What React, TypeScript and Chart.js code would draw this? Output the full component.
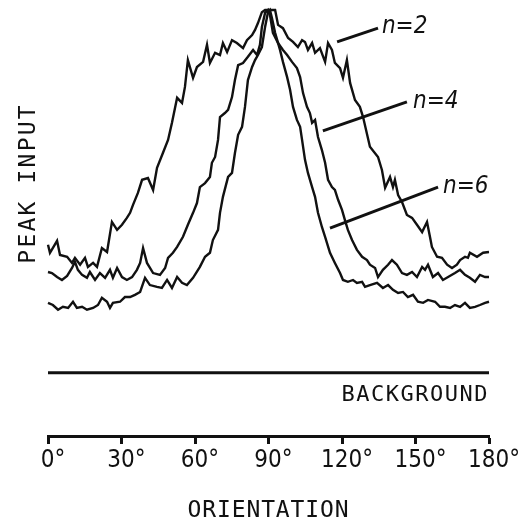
import React, { useEffect, useRef } from "react";
import { Chart, registerables } from "chart.js";

Chart.register(...registerables);

// X axis: orientation in degrees
const xTickValues = [0, 30, 60, 90, 120, 150, 180];

// n = 2 curve (orientation in degrees, peak input in % of maximum above background)
const n2Deg = [0, 0.8, 3.7, 4.9, 7.8, 9.8, 11.0, 13.1, 15.1, 16.3, 18.4, 20.0, 22.0, 24.1, 26.1, 28.2, 30.2, 32.2, 33.5, 34.7, 36.7, 38.4, 40.8, 42.9, 44.5, 46.9, 49.0, 50.6, 52.7, 54.7, 55.9, 57.1, 59.2, 60.8, 63.3, 64.9, 66.1, 68.2, 70.2, 71.4, 73.1, 75.1, 77.1, 79.6, 81.2, 83.3, 84.5, 85.7, 87.3, 88.6, 91.4, 92.7, 93.9, 95.9, 98.0, 100, 102.0, 103.7, 104.9, 106.1, 107.8, 109.0, 111.0, 113.1, 114.3, 115.9, 117.1, 119.2, 120.4, 122.0, 123.3, 125.3, 127.3, 128.6, 131.4, 134.7, 136.3, 137.6, 139.6, 140.8, 141.6, 142.9, 144.5, 146.5, 148.6, 150.6, 152.7, 154.7, 155.9, 156.7, 158.8, 160.8, 162.9, 164.9, 166.9, 168.2, 170.2, 171.4, 172.2, 175.1, 177.6, 180];
const n2Val = [35.3, 33.1, 36.4, 32.5, 32.0, 30.3, 31.7, 29.8, 31.7, 29.2, 30.3, 29.2, 34.4, 33.3, 41.6, 39.4, 40.8, 42.7, 44.1, 46.3, 49.6, 53.2, 53.7, 50.4, 56.5, 60.6, 64.2, 68.9, 75.8, 74.4, 78.8, 86.2, 81.3, 84.3, 85.7, 90.4, 85.4, 88.2, 87.6, 90.9, 88.4, 91.7, 90.9, 89.5, 91.7, 93.1, 94.5, 96.4, 99.4, 100, 100, 100, 95.9, 95.0, 92.3, 91.2, 89.8, 91.7, 91.2, 89.0, 90.9, 88.2, 89.5, 85.7, 90.9, 89.0, 85.4, 84.0, 81.3, 86.2, 79.9, 75.2, 73.3, 70.5, 62.3, 59.5, 55.9, 51.0, 54.0, 51.2, 53.2, 49.0, 47.1, 43.5, 42.7, 40.8, 38.8, 41.6, 37.5, 34.7, 32.0, 31.7, 29.8, 28.9, 29.8, 31.1, 32.0, 31.7, 33.1, 32.0, 33.1, 33.3];

// n = 4 curve
const n4Deg = [0, 1.6, 3.7, 5.7, 7.8, 9.8, 11.0, 12.2, 13.9, 15.9, 17.1, 19.2, 21.2, 23.3, 25.3, 26.5, 28.2, 30.2, 32.2, 34.3, 36.3, 37.6, 38.8, 40.4, 42.9, 45.7, 47.8, 49.0, 51.0, 52.7, 55.1, 57.1, 59.2, 60.8, 62.0, 64.1, 66.1, 66.9, 68.2, 69.4, 70.2, 72.2, 73.5, 75.1, 76.3, 77.6, 79.6, 81.6, 83.7, 85.3, 86.5, 87.3, 88.6, 89.8, 90.6, 91.8, 93.9, 95.9, 97.6, 99.6, 101.6, 102.9, 104.1, 105.7, 106.9, 107.8, 109.0, 110.2, 111.8, 113.1, 114.3, 115.9, 117.1, 118.4, 120.0, 121.2, 122.4, 124.1, 126.1, 128.2, 130.2, 131.4, 133.5, 134.7, 136.7, 138.8, 140.4, 142.4, 144.5, 146.5, 148.6, 150.6, 152.7, 153.9, 155.1, 157.1, 159.2, 161.2, 163.3, 166.1, 168.2, 170.2, 172.2, 174.3, 176.3, 178.4, 180];
const n4Val = [27.8, 27.5, 26.4, 25.6, 26.7, 28.9, 30.6, 28.4, 27.0, 26.2, 27.8, 25.6, 27.5, 26.2, 28.4, 26.2, 28.9, 26.4, 25.6, 26.4, 28.4, 30.3, 34.4, 30.3, 27.5, 27.0, 28.9, 31.7, 33.1, 34.7, 37.5, 40.8, 44.1, 46.8, 51.2, 52.3, 54.0, 57.9, 59.5, 64.2, 70.5, 71.6, 72.5, 76.0, 80.7, 84.8, 85.4, 87.1, 89.0, 87.6, 90.4, 95.3, 99.2, 100, 98.6, 93.7, 90.9, 89.0, 87.6, 85.7, 84.0, 81.5, 77.1, 73.3, 71.6, 68.9, 69.7, 65.0, 61.4, 57.9, 53.2, 51.2, 50.4, 47.7, 44.9, 42.1, 39.4, 36.6, 33.9, 32.0, 31.1, 29.8, 28.9, 26.4, 28.4, 29.8, 31.1, 29.8, 27.5, 27.0, 27.8, 26.4, 29.2, 28.4, 29.8, 26.4, 27.5, 25.6, 26.4, 27.5, 28.4, 27.0, 26.2, 25.1, 27.0, 26.4, 26.4];

// n = 6 curve
const n6Deg = [0, 2.0, 4.1, 6.1, 8.2, 10.2, 11.8, 13.9, 15.9, 18.4, 20.4, 22.0, 24.1, 25.3, 26.5, 29.4, 31.4, 33.5, 35.5, 37.6, 39.6, 41.6, 44.5, 46.5, 48.6, 50.6, 52.7, 54.7, 56.7, 59.2, 62.0, 64.1, 66.1, 67.3, 69.4, 70.2, 71.4, 73.5, 75.1, 76.3, 77.6, 79.2, 80.4, 81.6, 83.3, 84.5, 85.7, 87.3, 88.6, 89.8, 90.6, 91.4, 92.7, 94.7, 95.9, 97.6, 98.8, 100, 101.6, 102.9, 103.7, 104.9, 106.1, 107.8, 109.0, 110.2, 111.8, 113.1, 115.1, 117.1, 119.2, 120.4, 122.4, 124.5, 126.1, 128.2, 129.4, 131.4, 134.3, 136.7, 138.8, 140.8, 142.9, 144.9, 146.9, 149.0, 151.0, 153.1, 155.1, 158.0, 160.0, 162.0, 164.1, 166.1, 168.2, 170.2, 172.2, 174.3, 176.3, 178.4, 180];
const n6Val = [19.3, 18.7, 17.4, 18.2, 17.9, 19.6, 17.9, 18.2, 17.4, 17.9, 18.7, 20.7, 19.6, 17.9, 19.3, 19.6, 20.9, 20.9, 21.5, 22.3, 26.2, 24.2, 23.7, 23.4, 25.6, 23.4, 26.4, 24.8, 24.2, 26.2, 29.2, 32.0, 33.1, 36.6, 39.4, 44.1, 48.5, 54.0, 55.1, 60.6, 65.6, 67.8, 73.3, 80.7, 84.3, 86.2, 87.6, 89.8, 95.3, 99.4, 100, 97.8, 93.7, 89.0, 85.7, 81.5, 78.0, 73.3, 69.7, 67.8, 64.2, 58.7, 55.1, 51.2, 48.5, 44.1, 40.2, 37.5, 33.1, 30.3, 27.5, 25.6, 25.1, 25.6, 24.8, 25.1, 23.7, 24.2, 24.8, 23.4, 24.2, 22.9, 22.0, 22.3, 20.9, 21.5, 19.6, 19.3, 20.1, 19.6, 18.2, 18.2, 17.9, 18.7, 18.2, 19.3, 17.9, 18.2, 18.7, 19.3, 19.6];

// Background level
const backgroundDeg = [0, 180];
const backgroundVal = [0, 0];

// Series labels and their leader lines (in data coordinates)
const seriesLabels = ["n=2", "n=4", "n=6"];
const labelDeg = [136.3, 149.0, 161.2];
const labelVal = [95.3, 74.7, 51.2];
const leaderFromDeg = [118.0, 112.2, 115.1];
const leaderFromVal = [91.2, 66.7, 39.9];
const leaderToDeg = [134.7, 146.5, 159.2];
const leaderToVal = [95.0, 74.7, 51.2];

const xTitle = "ORIENTATION";
const yTitle = "PEAK INPUT";
const backgroundLabel = "BACKGROUND";

const INK = "#111";

const toPoints = (xs: number[], ys: number[]) => xs.map((x, i) => ({ x, y: ys[i] }));

const textPlugin = {
  id: "figureText",
  afterDraw(chart: any) {
    const { ctx, chartArea, scales } = chart;
    const xs = scales.x;
    const ys = scales.y;
    ctx.save();
    ctx.fillStyle = INK;
    ctx.strokeStyle = INK;
    ctx.lineWidth = 3;
    ctx.lineCap = "butt";
    // leader lines + series labels
    ctx.font = "italic 24px 'DejaVu Sans Condensed', 'DejaVu Sans', sans-serif";
    ctx.textAlign = "left";
    ctx.textBaseline = "middle";
    for (let i = 0; i < seriesLabels.length; i++) {
      ctx.beginPath();
      ctx.moveTo(xs.getPixelForValue(leaderFromDeg[i]), ys.getPixelForValue(leaderFromVal[i]));
      ctx.lineTo(xs.getPixelForValue(leaderToDeg[i]), ys.getPixelForValue(leaderToVal[i]));
      ctx.stroke();
      ctx.fillText(seriesLabels[i], xs.getPixelForValue(labelDeg[i]), ys.getPixelForValue(labelVal[i]));
    }
    // BACKGROUND label
    ctx.font = "22px 'DejaVu Sans Mono', monospace";
    (ctx as any).letterSpacing = "1.5px";
    ctx.textAlign = "right";
    ctx.textBaseline = "alphabetic";
    ctx.fillText(backgroundLabel, chartArea.right, ys.getPixelForValue(0) + 28);
    // x title
    ctx.font = "23px 'DejaVu Sans Mono', monospace";
    (ctx as any).letterSpacing = "0.9px";
    ctx.textAlign = "center";
    ctx.fillText(xTitle, (chartArea.left + chartArea.right) / 2, chart.height - 4);
    // y title
    (ctx as any).letterSpacing = "2.2px";
    ctx.translate(35, (chartArea.top + ys.getPixelForValue(0)) / 2 - 8);
    ctx.rotate(-Math.PI / 2);
    ctx.fillText(yTitle, 0, 0);
    ctx.restore();
  },
};

export default function App() {
  const canvasRef = useRef<HTMLCanvasElement | null>(null);

  useEffect(() => {
    document.body.style.margin = "0";
    const canvas = canvasRef.current;
    if (!canvas) return;
    const lineStyle = {
      borderColor: INK,
      borderWidth: 2.4,
      pointRadius: 0,
      tension: 0,
      fill: false,
      clip: false as any,
    };
    const chart = new Chart(canvas, {
      type: "line",
      data: {
        datasets: [
          { label: seriesLabels[0], data: toPoints(n2Deg, n2Val), ...lineStyle },
          { label: seriesLabels[1], data: toPoints(n4Deg, n4Val), ...lineStyle },
          { label: seriesLabels[2], data: toPoints(n6Deg, n6Val), ...lineStyle },
          { label: backgroundLabel, data: toPoints(backgroundDeg, backgroundVal), ...lineStyle, borderWidth: 3 },
        ],
      },
      options: {
        responsive: false,
        animation: false,
        devicePixelRatio: 1,
        layout: { padding: { left: 48, right: 30, top: 10, bottom: 0 } },
        plugins: { legend: { display: false }, tooltip: { enabled: false }, title: { display: false } },
        scales: {
          x: {
            type: "linear",
            min: 0,
            max: 180,
            afterFit: (scale: any) => {
              scale.height = 85;
            },
            afterBuildTicks: (scale: any) => {
              scale.ticks = xTickValues.map((v) => ({ value: v }));
            },
            grid: {
              display: true,
              drawOnChartArea: false,
              drawTicks: true,
              tickLength: 8,
              tickWidth: 3,
              tickColor: INK,
            },
            border: { display: true, color: INK, width: 3 },
            ticks: {
              color: INK,
              font: { family: "'DejaVu Sans Condensed', 'DejaVu Sans', sans-serif", size: 24 },
              padding: 2,
              labelOffset: 5,
              maxRotation: 0,
              autoSkip: false,
              callback: (v: any) => `${v}°`,
            },
          },
          y: {
            type: "linear",
            display: false,
            min: -17.4,
            max: 100,
          },
        },
      },
      plugins: [textPlugin],
    });
    return () => chart.destroy();
  }, []);

  return (
    <div style={{ width: 519, height: 521, background: "#fff" }}>
      <canvas ref={canvasRef} width={519} height={521} style={{ display: "block" }} />
    </div>
  );
}
